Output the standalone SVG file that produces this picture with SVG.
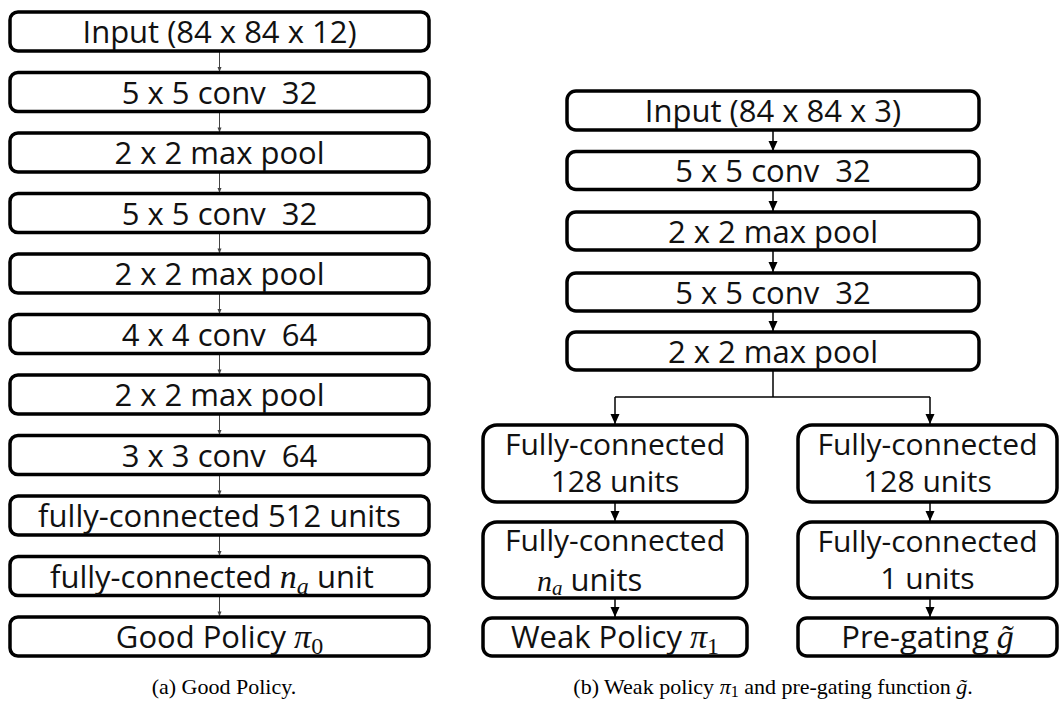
<svg xmlns="http://www.w3.org/2000/svg" width="1061" height="702" viewBox="0 0 1061 702">
<defs>
<marker id="ah" markerUnits="userSpaceOnUse" markerWidth="10" markerHeight="10" refX="10" refY="5" orient="auto" viewBox="0 0 10 10">
<path d="M0,0.5 L10,5 L0,9.5 z" fill="#000"/>
</marker>
<marker id="ahs" markerUnits="userSpaceOnUse" markerWidth="6" markerHeight="5" refX="10" refY="5" orient="auto" viewBox="0 0 10 10">
<path d="M0,1 L10,5 L0,9 z" fill="#444"/>
</marker>
</defs>
<style>
.b{fill:#fff;stroke:#000;stroke-width:3.5}
.t{font-family:"Open Sans","Noto Sans",sans-serif;font-size:31px;fill:#111;text-anchor:middle}
.t2{font-family:"Open Sans","Noto Sans",sans-serif;font-size:30px;fill:#111;text-anchor:middle}
.ts{font-family:"Open Sans","Noto Sans",sans-serif;font-size:31px;fill:#111}
.m{font-family:"Liberation Serif",serif;font-style:italic}
.mu{font-family:"Liberation Serif",serif;font-style:normal}
.cap{font-family:"Liberation Serif","Times New Roman",serif;font-size:22px;fill:#000;text-anchor:middle}
.c{fill:none;stroke:#000;stroke-width:1.5}
.cs{fill:none;stroke:#444;stroke-width:1}
</style>
<rect width="1061" height="702" fill="#fff"/>
<g id="connectors">
<path class="cs" d="M219.5,51 V72" marker-end="url(#ahs)"/>
<path class="cs" d="M219.5,111.5 V132.5" marker-end="url(#ahs)"/>
<path class="cs" d="M219.5,172 V193" marker-end="url(#ahs)"/>
<path class="cs" d="M219.5,232.5 V253.5" marker-end="url(#ahs)"/>
<path class="cs" d="M219.5,293 V314" marker-end="url(#ahs)"/>
<path class="cs" d="M219.5,353.5 V374.5" marker-end="url(#ahs)"/>
<path class="cs" d="M219.5,414 V435" marker-end="url(#ahs)"/>
<path class="cs" d="M219.5,474.5 V495.5" marker-end="url(#ahs)"/>
<path class="cs" d="M219.5,535 V556" marker-end="url(#ahs)"/>
<path class="cs" d="M219.5,595.5 V616.5" marker-end="url(#ahs)"/>
<path class="c" d="M773,130 V151" marker-end="url(#ah)"/>
<path class="c" d="M773,190 V211" marker-end="url(#ah)"/>
<path class="c" d="M773,250 V272" marker-end="url(#ah)"/>
<path class="c" d="M773,311 V331" marker-end="url(#ah)"/>
<path class="c" d="M773,370 V397"/>
<path class="c" d="M615,397 H930"/>
<path class="c" d="M615,397 V424" marker-end="url(#ah)"/>
<path class="c" d="M930,397 V424" marker-end="url(#ah)"/>
<path class="c" d="M615,502 V521" marker-end="url(#ah)"/>
<path class="c" d="M930,502 V521" marker-end="url(#ah)"/>
<path class="c" d="M615,598 V617" marker-end="url(#ah)"/>
<path class="c" d="M930,598 V617" marker-end="url(#ah)"/>
</g>
<g id="a-input"><rect class="b" x="10" y="12" width="419" height="39" rx="8"/><text class="t" x="219.5" y="43">Input (84 x 84 x 12)</text></g>
<g id="a-conv1"><rect class="b" x="10" y="72.5" width="419" height="39" rx="8"/><text class="t" x="219.5" y="103.5" xml:space="preserve">5 x 5 conv  32</text></g>
<g id="a-pool1"><rect class="b" x="10" y="133" width="419" height="39" rx="8"/><text class="t" x="219.5" y="164">2 x 2 max pool</text></g>
<g id="a-conv2"><rect class="b" x="10" y="193.5" width="419" height="39" rx="8"/><text class="t" x="219.5" y="224.5" xml:space="preserve">5 x 5 conv  32</text></g>
<g id="a-pool2"><rect class="b" x="10" y="254" width="419" height="39" rx="8"/><text class="t" x="219.5" y="285">2 x 2 max pool</text></g>
<g id="a-conv3"><rect class="b" x="10" y="314.5" width="419" height="39" rx="8"/><text class="t" x="219.5" y="345.5" xml:space="preserve">4 x 4 conv  64</text></g>
<g id="a-pool3"><rect class="b" x="10" y="375" width="419" height="39" rx="8"/><text class="t" x="219.5" y="406">2 x 2 max pool</text></g>
<g id="a-conv4"><rect class="b" x="10" y="435.5" width="419" height="39" rx="8"/><text class="t" x="219.5" y="466.5" xml:space="preserve">3 x 3 conv  64</text></g>
<g id="a-fc1"><rect class="b" x="10" y="496" width="419" height="39" rx="8"/><text class="t" x="219.5" y="527">fully-connected 512 units</text></g>
<g id="a-fc2"><rect class="b" x="10" y="556.5" width="419" height="39" rx="8"/><text class="ts" x="50" y="587.5">fully-connected <tspan class="m" font-size="34">n</tspan><tspan class="m" font-size="24" dy="6">a</tspan><tspan dy="-6"> unit</tspan></text></g>
<g id="a-out"><rect class="b" x="10" y="617" width="419" height="39" rx="8"/><text class="t" x="219.5" y="648">Good Policy <tspan class="m" font-size="34">π</tspan><tspan class="mu" font-size="24" dy="6">0</tspan></text></g>
<g id="b-input"><rect class="b" x="567" y="91" width="412" height="39" rx="9"/><text class="t" x="773" y="122">Input (84 x 84 x 3)</text></g>
<g id="b-conv1"><rect class="b" x="567" y="151.5" width="412" height="38" rx="9"/><text class="t" x="773" y="182" xml:space="preserve">5 x 5 conv  32</text></g>
<g id="b-pool1"><rect class="b" x="567" y="212" width="412" height="38" rx="9"/><text class="t" x="773" y="242.5">2 x 2 max pool</text></g>
<g id="b-conv2"><rect class="b" x="567" y="273" width="412" height="38" rx="9"/><text class="t" x="773" y="303.5" xml:space="preserve">5 x 5 conv  32</text></g>
<g id="b-pool2"><rect class="b" x="567" y="332" width="412" height="38" rx="9"/><text class="t" x="773" y="362.5">2 x 2 max pool</text></g>
<g id="b-fc1a"><rect class="b" x="483" y="425" width="264" height="77" rx="14"/><text class="t2" x="615" y="455">Fully-connected</text><text class="t2" x="615" y="492">128 units</text></g>
<g id="b-fc2a"><rect class="b" x="483" y="522" width="264" height="76" rx="14"/><text class="t2" x="615" y="551">Fully-connected</text><text class="ts" x="537" y="591" font-size="30"><tspan class="m" font-size="30">n</tspan><tspan class="m" font-size="21" dy="4">a</tspan><tspan dy="-4"> units</tspan></text></g>
<g id="b-outa"><rect class="b" x="483" y="618" width="264" height="38" rx="9"/><text class="t" x="615" y="648">Weak Policy <tspan class="m" font-size="34">π</tspan><tspan class="mu" font-size="24" dy="6">1</tspan></text></g>
<g id="b-fc1b"><rect class="b" x="798" y="425" width="259" height="77" rx="14"/><text class="t2" x="927.5" y="455">Fully-connected</text><text class="t2" x="927.5" y="492">128 units</text></g>
<g id="b-fc2b"><rect class="b" x="798" y="522" width="259" height="76" rx="14"/><text class="t2" x="927.5" y="552">Fully-connected</text><text class="t2" x="927.5" y="589">1 units</text></g>
<g id="b-outb"><rect class="b" x="798" y="618" width="259" height="38" rx="9"/><text class="t" x="927.5" y="648">Pre-gating <tspan class="m" font-size="34">g̃</tspan></text></g>
<g id="captions">
<text class="cap" x="224" y="694">(a) Good Policy.</text>
<text class="cap" x="773" y="694">(b) Weak policy <tspan font-style="italic">π</tspan><tspan font-size="16" dy="3">1</tspan><tspan dy="-3"> and pre-gating function </tspan><tspan font-style="italic">g̃</tspan>.</text>
</g>
</svg>
